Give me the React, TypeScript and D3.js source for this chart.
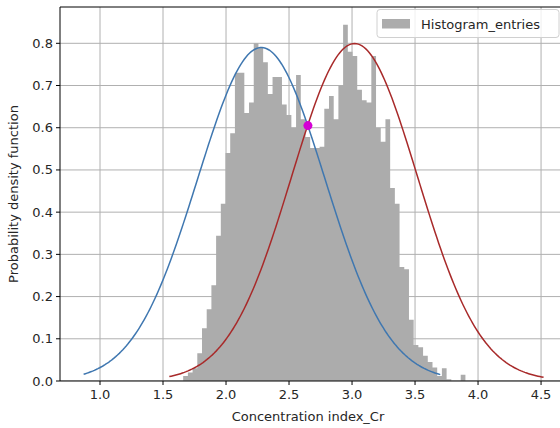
import React from 'react';
import * as d3 from 'd3';

// histogram: 60 equal bins (density)
const histStart = 1.66;
const histBinWidth = 0.03733;
const histDensity = [
  0.012, 0.02, 0.03, 0.066, 0.125, 0.17, 0.227, 0.344, 0.42, 0.54,
  0.587, 0.73, 0.73, 0.635, 0.66, 0.8, 0.79, 0.755, 0.68, 0.72,
  0.72, 0.655, 0.63, 0.6, 0.725, 0.62, 0.578, 0.552, 0.552, 0.555,
  0.645, 0.675, 0.62, 0.7, 0.844, 0.78, 0.77, 0.69, 0.665, 0.66,
  0.77, 0.6, 0.567, 0.62, 0.457, 0.42, 0.27, 0.265, 0.145, 0.085,
  0.08, 0.06, 0.045, 0.032, 0.012, 0.03, 0.004, 0, 0, 0.015,
];

// two fitted normal curves
const fitNames = ['fit_1', 'fit_2'];
const fitMeans = [2.28, 3.02];
const fitSigmas = [0.505, 0.499];
const fitFrom = [0.87, 1.55];
const fitTo = [3.7, 4.52];
const fitColors = ['#3f77b0', '#a82a2a'];

// intersection point
const crossX = [2.65];
const crossY = [0.605];

const xTicks = [1.0, 1.5, 2.0, 2.5, 3.0, 3.5, 4.0, 4.5];
const yTicks = [0.0, 0.1, 0.2, 0.3, 0.4, 0.5, 0.6, 0.7, 0.8];

const W = 560;
const H = 428;
const left = 60;
const right = 566;
const top = 7;
const bottom = 381;
const font = 'DejaVu Sans, sans-serif';
const textColor = '#262626';

function pdf(x: number, mu: number, s: number) {
  return Math.exp(-((x - mu) * (x - mu)) / (2 * s * s)) / (s * Math.sqrt(2 * Math.PI));
}

export default function App() {
  const x = d3.scaleLinear().domain([0.6825, 4.698]).range([left, right]);
  const y = d3.scaleLinear().domain([0, 0.886]).range([bottom, top]);

  const line = d3
    .line<[number, number]>()
    .x((d) => x(d[0]))
    .y((d) => y(d[1]));

  const curves = fitNames.map((n, i) => {
    const pts: [number, number][] = d3
      .range(0, 201)
      .map((k) => fitFrom[i] + ((fitTo[i] - fitFrom[i]) * k) / 200)
      .map((v) => [v, pdf(v, fitMeans[i], fitSigmas[i])]);
    return { name: n, d: line(pts) || '', color: fitColors[i] };
  });

  // histogram as one stepped area so bars have no seams between them
  const histPts: [number, number][] = histDensity.map((v, i) => [histStart + i * histBinWidth, v]);
  histPts.push([histStart + histDensity.length * histBinWidth, 0]);
  const histArea = d3
    .area<[number, number]>()
    .x((d) => x(d[0]))
    .y0(y(0))
    .y1((d) => y(d[1]))
    .curve(d3.curveStepAfter);

  return (
    <svg
      width={W}
      height={H}
      style={{ position: 'fixed', left: 0, top: 0, background: '#fff' }}
      fontFamily={font}
    >
      <defs>
        <clipPath id="plot">
          <rect x={left} y={top} width={right - left} height={bottom - top} />
        </clipPath>
      </defs>
      <rect x={0} y={0} width={W} height={H} fill="#fff" />

      <g clipPath="url(#plot)">
        {xTicks.map((t) => (
          <line key={'gx' + t} x1={x(t)} x2={x(t)} y1={top} y2={bottom} stroke="#b0b0b0" strokeWidth={1} />
        ))}
        {yTicks.map((t) => (
          <line key={'gy' + t} x1={left} x2={right} y1={y(t)} y2={y(t)} stroke="#b0b0b0" strokeWidth={1} />
        ))}

        <path d={histArea(histPts) || ''} fill="#acacac" />

        {curves.map((c) => (
          <path key={c.name} d={c.d} fill="none" stroke={c.color} strokeWidth={1.5} />
        ))}

        {crossX.map((cx, i) => (
          <circle key={i} cx={x(cx)} cy={y(crossY[i])} r={4.5} fill="#d400d4" />
        ))}
      </g>

      {/* spines */}
      <line x1={left} x2={left} y1={top} y2={bottom} stroke="#000" strokeWidth={1} />
      <line x1={left} x2={right} y1={bottom} y2={bottom} stroke="#000" strokeWidth={1} />
      <line x1={left} x2={right} y1={top} y2={top} stroke="#000" strokeWidth={1} />

      {/* x ticks */}
      {xTicks.map((t) => (
        <g key={'xt' + t}>
          <line x1={x(t)} x2={x(t)} y1={bottom} y2={bottom + 4} stroke="#000" strokeWidth={1} />
          <text x={x(t)} y={bottom + 18} textAnchor="middle" fontSize={13} fill={textColor}>
            {t.toFixed(1)}
          </text>
        </g>
      ))}
      {/* y ticks */}
      {yTicks.map((t) => (
        <g key={'yt' + t}>
          <line x1={left - 4} x2={left} y1={y(t)} y2={y(t)} stroke="#000" strokeWidth={1} />
          <text x={left - 7} y={y(t) + 4.5} textAnchor="end" fontSize={13} fill={textColor}>
            {t.toFixed(1)}
          </text>
        </g>
      ))}

      <text x={(left + 566) / 2 - 5} y={421} textAnchor="middle" fontSize={13} fill={textColor}>
        Concentration index_Cr
      </text>
      <text
        transform={`translate(18, ${(top + bottom) / 2}) rotate(-90)`}
        textAnchor="middle"
        fontSize={13}
        fill={textColor}
      >
        Probability density function
      </text>

      {/* legend */}
      <g>
        <rect x={377} y={9.5} width={182} height={28} rx={3} fill="#fff" fillOpacity={0.8} stroke="#d0d0d0" strokeWidth={1} />
        <rect x={382} y={19} width={28} height={9.5} fill="#acacac" />
        <text x={421} y={28.5} fontSize={13} fill={textColor}>
          Histogram_entries
        </text>
      </g>
    </svg>
  );
}
